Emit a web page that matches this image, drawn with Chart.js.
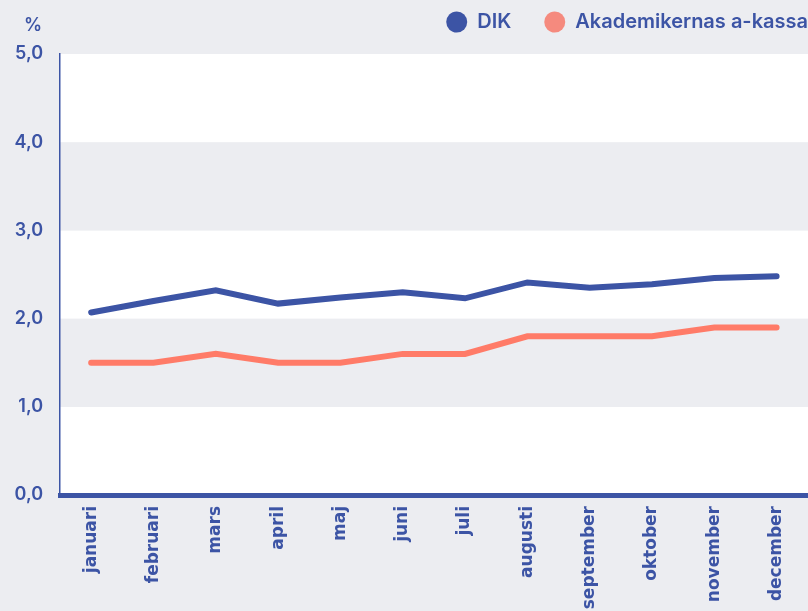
<!DOCTYPE html>
<html>
<head>
<meta charset="utf-8">
<script src="https://cdn.jsdelivr.net/npm/chart.js@4/dist/chart.umd.min.js"></script>
<style>
  html, body { margin: 0; padding: 0; background: #ecedf1; }
  #wrap { width: 808px; height: 611px; }
</style>
</head>
<body>
<div id="wrap"><canvas id="lineChart" width="808" height="611"></canvas></div>
<script>
    "use strict";

    // Data
    var months = ['januari', 'februari', 'mars', 'april', 'maj', 'juni',
        'juli', 'augusti', 'september', 'oktober', 'november', 'december'];
    var dik = [2.07, 2.2, 2.32, 2.17, 2.24, 2.3, 2.23, 2.41, 2.35, 2.39, 2.46, 2.48];
    var akademikerna = [1.5, 1.5, 1.6, 1.5, 1.5, 1.6, 1.6, 1.8, 1.8, 1.8, 1.9, 1.9];
    var yTicks = [0, 1, 2, 3, 4, 5];

    var blue = '#3c54a5';
    var coral = '#ff7b68';
    var fontFamily = 'Inter, "Noto Sans", sans-serif';
    var wideFont = '"DejaVu Sans", sans-serif';

    // White/grey bands behind the plot, plus the "%" unit label
    var bandsPlugin = {
        id: 'bands',
        beforeDraw: function (chart) {
            var c = chart.ctx, area = chart.chartArea, y = chart.scales.y;
            c.save();
            for (var i = 0; i < yTicks.length - 1; i++) {
                var top = y.getPixelForValue(yTicks[i + 1]);
                var bottom = y.getPixelForValue(yTicks[i]);
                c.fillStyle = (i % 2 === 0) ? '#ffffff' : '#ecedf1';
                c.fillRect(area.left, top, chart.width - area.left, bottom - top);
            }
            c.restore();
        },
        afterDraw: function (chart) {
            var c = chart.ctx;
            c.save();
            c.fillStyle = blue;
            c.font = '600 18px ' + fontFamily;
            c.textAlign = 'center';
            c.textBaseline = 'middle';
            c.fillText('%', 33, 26);
            c.restore();
        }
    };

    // Fix legend height and nudge it to the top right corner
    var legendTweak = {
        id: 'legendTweak',
        beforeInit: function (chart) {
            var lg = chart.legend;
            var origFit = lg.fit;
            lg.fit = function () {
                origFit.bind(lg)();
                this.height = 54;
            };
            var origDraw = lg.draw;
            lg.draw = function () {
                var c = chart.ctx;
                c.save();
                c.translate(33, -21);
                origDraw.apply(lg, arguments);
                c.restore();
            };
        }
    };

    var ctx = document.getElementById('lineChart').getContext('2d');
    var lineChart = new Chart(ctx, {
        type: 'line',
        data: {
            labels: months,
            datasets: [{
                label: 'DIK',
                data: dik,
                borderColor: blue,
                backgroundColor: blue,
                borderWidth: 6,
                borderCapStyle: 'round',
                borderJoinStyle: 'miter',
                pointRadius: 0,
                tension: 0
            }, {
                label: 'Akademikernas a-kassa',
                data: akademikerna,
                borderColor: coral,
                backgroundColor: '#f58a7e',
                borderWidth: 6,
                borderCapStyle: 'round',
                borderJoinStyle: 'miter',
                pointRadius: 0,
                tension: 0
            }]
        },
        options: {
            responsive: false,
            animation: false,
            layout: { padding: 0 },
            plugins: {
                legend: {
                    position: 'top',
                    align: 'end',
                    labels: {
                        usePointStyle: true,
                        pointStyle: 'circle',
                        boxHeight: 15,
                        pointStyleWidth: 21,
                        padding: 33,
                        color: blue,
                        font: { family: fontFamily, size: 20, weight: '600' },
                        generateLabels: function (chart) {
                            var items = Chart.defaults.plugins.legend.labels.generateLabels(chart);
                            items.forEach(function (it) {
                                it.lineWidth = 0;
                                it.strokeStyle = it.fillStyle;
                            });
                            return items;
                        }
                    }
                },
                tooltip: { enabled: false }
            },
            scales: {
                x: {
                    offset: true,
                    grid: { display: false, drawTicks: false },
                    border: { display: true, color: blue, width: 5 },
                    ticks: {
                        color: blue,
                        maxRotation: 90,
                        minRotation: 90,
                        autoSkip: false,
                        padding: 11,
                        font: { family: wideFont, size: 17, weight: 'bold' }
                    },
                    afterFit: function (scale) { scale.height = 116; }
                },
                y: {
                    min: 0,
                    max: 5,
                    grid: { display: false, drawTicks: false },
                    border: { display: true, color: blue, width: 1.5 },
                    ticks: {
                        stepSize: 1,
                        color: blue,
                        padding: 17,
                        font: { family: fontFamily, size: 18, weight: '600' },
                        callback: function (v) { return v.toFixed(1).replace('.', ','); }
                    },
                    afterFit: function (scale) { scale.width = 60; }
                }
            }
        },
        plugins: [bandsPlugin, legendTweak]
    });
</script>
</body>
</html>
